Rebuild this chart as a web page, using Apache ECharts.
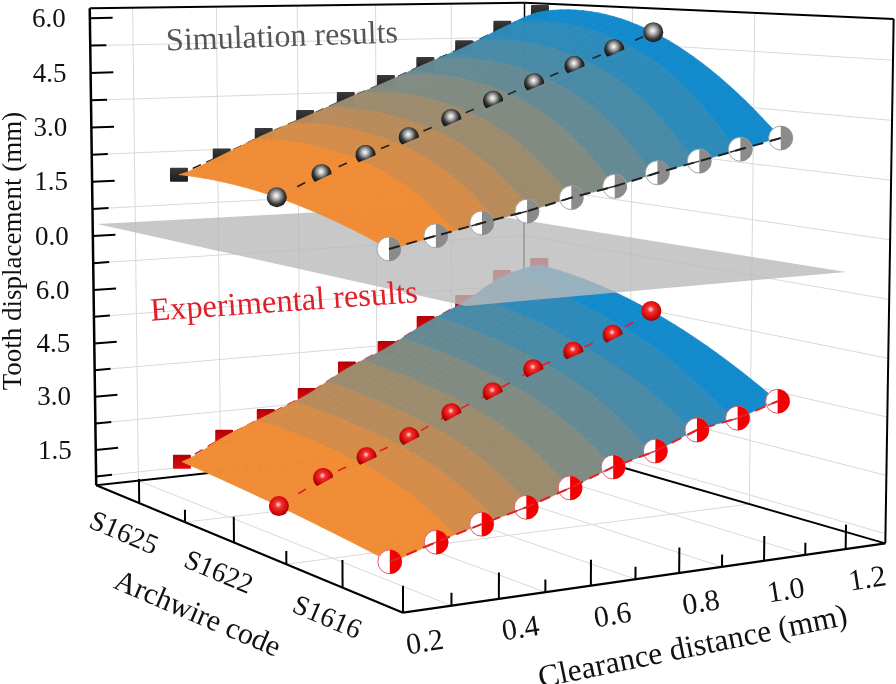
<!DOCTYPE html>
<html>
<head>
<meta charset="utf-8">
<title>Tooth displacement</title>
<style type="text/css">
	* {margin: 0; padding: 0;}
	#chart {width: 896px; height: 684px; background: #fff;}
</style>
</head>
<body>
<div id="chart"></div>
<script src="https://cdn.jsdelivr.net/npm/echarts@6/dist/echarts.min.js"></script>
<script type="text/javascript">
// values
var clearance = [0.3, 0.4, 0.5, 0.6, 0.7, 0.8, 0.9, 1.0, 1.1, 1.2];
var archwires = ['S1616', 'S1622', 'S1625'];
var simS1616 = [0.97, 1.21, 1.45, 1.67, 1.94, 2.16, 2.44, 2.68, 2.93, 3.17];
var simS1622 = [1.72, 2.25, 2.69, 3.10, 3.53, 3.97, 4.40, 4.83, 5.25, 5.69];
var simS1625 = [1.86, 2.33, 2.84, 3.29, 3.75, 4.19, 4.67, 5.12, 5.65, 6.09];
var expS1616 = [0.97, 1.30, 1.60, 1.88, 2.23, 2.63, 2.91, 3.33, 3.52, 3.85];
var expS1622 = [1.30, 1.90, 2.32, 2.73, 3.25, 3.70, 4.22, 4.60, 4.97, 5.54];
var expS1625 = [1.51, 2.08, 2.55, 3.03, 3.67, 4.16, 4.78, 5.30, 5.95, 6.22];

var clearanceTicks = [0.2, 0.4, 0.6, 0.8, 1.0, 1.2];
var clearanceGrid = [0.3, 0.5, 0.7, 0.9, 1.1];
var simTicks = [0, 1.5, 3, 4.5, 6];
var expTicks = [1.5, 3, 4.5, 6];
var bandEdges = [0.44, 0.53, 0.61, 0.70, 0.80, 0.89, 0.99, 1.09];
var bandColors = ['#f08c35', '#d48c48', '#b98b5b', '#9d8b6e', '#818b81', '#658a94', '#498aa6', '#2e8ab9', '#128acc'];

// camera: where the corners of the unit box land on the page (u, v, h, px, py)
var boxCorners = [[0,0,0,403,612],[1,0,0,885,544],[0,1,0,96,486],[1,1,0,524,438],[0,1,1,90,8],[1,1,1,524,3],[1,0,1,894,19]];

function solve(A, b) {
	var n = b.length, i, r, c;
	for (i = 0; i < n; i++) {
		var m = i;
		for (r = i + 1; r < n; r++) if (Math.abs(A[r][i]) > Math.abs(A[m][i])) m = r;
		var t = A[i]; A[i] = A[m]; A[m] = t;
		t = b[i]; b[i] = b[m]; b[m] = t;
		for (r = i + 1; r < n; r++) {
			var f = A[r][i] / A[i][i];
			for (c = i; c < n; c++) A[r][c] -= f * A[i][c];
			b[r] -= f * b[i];
		}
	}
	var x = [];
	for (i = n - 1; i >= 0; i--) {
		var s = b[i];
		for (c = i + 1; c < n; c++) s -= A[i][c] * x[c];
		x[i] = s / A[i][i];
	}
	return x;
}

function fitCamera() {
	var rows = [], N = [], B = [];
	boxCorners.forEach(function (k) {
		rows.push([k[0], k[1], k[2], 1, 0, 0, 0, 0, -k[3]*k[0], -k[3]*k[1], -k[3]*k[2], k[3]]);
		rows.push([0, 0, 0, 0, k[0], k[1], k[2], 1, -k[4]*k[0], -k[4]*k[1], -k[4]*k[2], k[4]]);
	});
	for (var i = 0; i < 11; i++) {
		N.push([]);
		var s = 0;
		for (var j = 0; j < 11; j++) {
			var t = 0;
			rows.forEach(function (r) { t += r[i] * r[j]; });
			N[i].push(t);
		}
		rows.forEach(function (r) { s += r[i] * r[11]; });
		B.push(s);
	}
	return solve(N, B);
}
var cam = fitCamera();

function project(u, v, h) {
	var w = cam[8]*u + cam[9]*v + cam[10]*h + 1;
	return [(cam[0]*u + cam[1]*v + cam[2]*h + cam[3]) / w, (cam[4]*u + cam[5]*v + cam[6]*h + cam[7]) / w];
}
function uOf(x) { return (x - 0.2) / 1.1; }
function vOf(i) { return (2 * i + 1) / 6; }
function hSim(z) { return 0.527 + 0.0754 * z; }
function hExp(z) { return -0.0376 + 0.0752 * z; }

function line(api, a, b, color, width, dash) {
	var p = api.coord(project(a[0], a[1], a[2])), q = api.coord(project(b[0], b[1], b[2]));
	return {type: 'line', shape: {x1: p[0], y1: p[1], x2: q[0], y2: q[1]}, style: {stroke: color, lineWidth: width, lineDash: dash}};
}
function label(api, text, pos, dx, dy, size, rot, color) {
	var p = api.coord(pos);
	return {type: 'text', x: p[0] + dx, y: p[1] + dy, rotation: (rot || 0) * Math.PI / 180,
		style: {text: text, font: size + 'px "Liberation Serif"', fill: color || '#111', align: 'center', verticalAlign: 'middle'}};
}

function renderWalls(params, api) {
	var c = [], grid = '#d9d9d9', k;
	clearanceGrid.forEach(function (x) {
		var u = uOf(x);
		c.push(line(api, [u,1,0], [u,1,1], grid, 1));
		c.push(line(api, [u,0,0], [u,1,0], grid, 1));
	});
	[2/6, 4/6].forEach(function (v) {
		c.push(line(api, [1,v,0], [1,v,1], grid, 1));
		c.push(line(api, [0,v,0], [1,v,0], grid, 1));
	});
	var wallLevels = [];
	for (k = 0; k < simTicks.length - 1; k++) wallLevels.push(hSim(simTicks[k] + 0.75));
	for (k = 0; k < expTicks.length; k++) wallLevels.push(hExp(expTicks[k] - 0.75));
	wallLevels.push(hExp(6.75));
	wallLevels.forEach(function (h) {
		c.push(line(api, [0,1,h], [1,1,h], grid, 1));
		c.push(line(api, [1,1,h], [1,0,h], grid, 1));
	});
	return {type: 'group', children: c};
}

function renderFrame(params, api) {
	var c = [], k = '#000';
	c.push(line(api, [1,1,0], [1,1,1], k, 1.5));
	c.push(line(api, [0,1,1], [1,1,1], k, 2));
	c.push(line(api, [1,1,1], [1,0,1], k, 2));
	c.push(line(api, [1,0,0], [1,0,1], k, 2));
	c.push(line(api, [0,1,0], [1,1,0], k, 2));
	c.push(line(api, [1,1,0], [1,0,0], k, 2));
	return {type: 'group', children: c};
}

function renderAxes(params, api) {
	var c = [], k = '#000';
	c.push(line(api, [0,1,0], [0,1,1], k, 2.5));
	c.push(line(api, [0,0,0], [1,0,0], k, 2.2));
	c.push(line(api, [0,0,0], [0,1,0], k, 2.2));

	function zTick(h, len) { c.push(line(api, [0,1,h], [len,1,h], k, 2)); }
	simTicks.forEach(function (z) {
		zTick(hSim(z), 0.048);
		c.push(label(api, z.toFixed(1), project(0, 1, hSim(z)), -41, 1.5, 27));
	});
	expTicks.forEach(function (z) {
		zTick(hExp(z), 0.048);
		c.push(label(api, z.toFixed(1), project(0, 1, hExp(z)), -41, 1.5, 27));
	});
	simTicks.slice(0, 4).forEach(function (z) { zTick(hSim(z + 0.75), 0.034); });
	expTicks.forEach(function (z) { zTick(hExp(z - 0.75), 0.034); });
	zTick(hExp(6.75), 0.034);

	clearanceTicks.forEach(function (x) {
		var u = uOf(x);
		c.push(line(api, [u,0,0], [u,0,0.047], k, 2));
		c.push(label(api, x.toFixed(1), project(u, 0, 0), 22, 31, 30, 9));
	});
	clearanceGrid.forEach(function (x) { c.push(line(api, [uOf(x),0,0], [uOf(x),0,0.023], k, 2)); });

	archwires.forEach(function (name, i) {
		c.push(line(api, [0,vOf(i),0], [0,vOf(i),0.05], k, 2));
		c.push(label(api, name, project(0, vOf(i), 0), -16, 31, 28, -23));
	});
	[2/6, 4/6].forEach(function (v) { c.push(line(api, [0,v,0], [0,v,0.025], k, 2)); });

	c.push(label(api, 'Tooth displacement (mm)', [14, 251], 0, 0, 27, 90));
	c.push(label(api, 'Archwire code', [197, 615], 0, 0, 30, -23));
	c.push(label(api, 'Clearance distance (mm)', [693, 648], 0, 0, 31.5, 11.6));
	c.push(label(api, 'Simulation results', [282, 38], 0, 0, 32, 2, '#555'));
	c.push(label(api, 'Experimental results', [284, 303], 0, 0, 32.5, 4, '#e01f2b'));
	return {type: 'group', children: c};
}

// smooth value along a row, passes through every measured value
function alongRow(vals, t) {
	var i = Math.max(Math.min(Math.floor(t), vals.length - 2), 0), f = t - i;
	var p0 = vals[Math.max(i - 1, 0)], p1 = vals[i], p2 = vals[i + 1], p3 = vals[Math.min(i + 2, vals.length - 1)];
	return 0.5 * (2*p1 + (p2-p0)*f + (2*p0-5*p1+4*p2-p3)*f*f + (3*p1-p0-3*p2+p3)*f*f*f);
}
// quadratic across the three archwires
function acrossRows(a, b, c, s) {
	return a*(s-1)*(s-2)/2 - b*s*(s-2) + c*s*(s-1)/2;
}
function bandEdgeAt(k, s) {
	if (k < 0) return clearance[0];
	if (k >= bandEdges.length) return clearance[clearance.length - 1];
	var bend = s < 1 ? 1 - (1-s)*(1-s) : 1;
	return bandEdges[k] + 0.04 * bend;
}

function surfaceRenderer(front, mid, back, hOf) {
	function at(x, s, api) {
		var t = (x - clearance[0]) / 0.1;
		var z = acrossRows(alongRow(front, t), alongRow(mid, t), alongRow(back, t), s);
		return api.coord(project(uOf(x), (1 + 2 * s) / 6, hOf(z)));
	}
	return function (params, api) {
		var ns = 30, m = 10, c = [];
		for (var j = ns - 1; j >= 0; j--) {
			var s0 = 2 * j / ns, s1 = 2 * (j + 1) / ns;
			for (var k = 0; k < bandColors.length; k++) {
				var pts = [], i;
				var a0 = bandEdgeAt(k - 1, s0), b0 = bandEdgeAt(k, s0), a1 = bandEdgeAt(k - 1, s1), b1 = bandEdgeAt(k, s1);
				for (i = 0; i <= m; i++) pts.push(at(a0 + (b0 - a0) * i / m, s0, api));
				for (i = m; i >= 0; i--) pts.push(at(a1 + (b1 - a1) * i / m, s1, api));
				c.push({type: 'polygon', shape: {points: pts}, style: {fill: bandColors[k], stroke: bandColors[k], lineWidth: 0.7}});
			}
		}
		return {type: 'group', children: c};
	};
}

function rowData(vals, row) {
	return vals.map(function (z, i) { return [clearance[i], row, z]; });
}
function rowLineRenderer(vals, row, hOf, color, width, dash) {
	return function (params, api) {
		var pts = vals.map(function (z, i) { return api.coord(project(uOf(clearance[i]), vOf(row), hOf(z))); });
		return {type: 'polyline', shape: {points: pts}, style: {stroke: color, lineWidth: width, lineDash: dash, fill: 'none'}};
	};
}
function where(api, hOf) {
	return api.coord(project(uOf(api.value(0)), vOf(api.value(1)), hOf(api.value(2))));
}

function squareRenderer(hOf, top, bottom) {
	return function (params, api) {
		var p = where(api, hOf);
		return {type: 'rect', shape: {x: p[0] - 9, y: p[1] - 7, width: 18, height: 14, r: 1},
			style: {fill: new echarts.graphic.LinearGradient(0, 0, 0, 1, [{offset: 0, color: top}, {offset: 1, color: bottom}])}};
	};
}
function sphereRenderer(vals, hOf, stops) {
	return function (params, api) {
		var p = where(api, hOf), i = params.dataIndex, r = 10;
		var fill = new echarts.graphic.RadialGradient(0.47, 0.42, 0.62, stops);
		if (i === 0 || i === vals.length - 1) {
			return {type: 'circle', shape: {cx: p[0], cy: p[1], r: r}, style: {fill: fill}};
		}
		var a = project(uOf(clearance[i-1]), vOf(1), hOf(vals[i-1])), b = project(uOf(clearance[i+1]), vOf(1), hOf(vals[i+1]));
		var tilt = Math.atan2(b[1] - a[1], b[0] - a[0]), pointDown = tilt + Math.PI / 2, gap = Math.acos(0.42), pts = [];
		for (var k = 0; k <= 40; k++) {
			var ang = pointDown + gap + (2 * Math.PI - 2 * gap) * k / 40;
			pts.push([p[0] + r * Math.cos(ang), p[1] + r * Math.sin(ang)]);
		}
		return {type: 'polygon', shape: {points: pts}, style: {fill: fill}};
	};
}
function halfRenderer(vals, hOf, color, edge, ink) {
	return function (params, api) {
		var p = where(api, hOf), i = params.dataIndex;
		var parts = [
			{type: 'circle', shape: {cx: p[0], cy: p[1], r: 12}, style: {fill: '#fff', stroke: edge, lineWidth: 1}},
			{type: 'sector', shape: {cx: p[0], cy: p[1], r: 12, r0: 0, startAngle: -Math.PI / 2, endAngle: Math.PI / 2, clockwise: true}, style: {fill: color}}
		];
		if (i > 0) {
			var q = api.coord(project(uOf(clearance[i-1]), vOf(0), hOf(vals[i-1])));
			var d = Math.sqrt((q[0]-p[0])*(q[0]-p[0]) + (q[1]-p[1])*(q[1]-p[1]));
			parts.push({type: 'line', shape: {x1: p[0], y1: p[1], x2: p[0] + (q[0]-p[0]) * 11 / d, y2: p[1] + (q[1]-p[1]) * 11 / d}, style: {stroke: ink, lineWidth: 1.5}});
		}
		return {type: 'group', children: parts};
	};
}
function renderPlane(params, api) {
	var h = 0.55;
	var pts = [[0.015,1.01],[0.775,0.996],[0.797,-0.106],[0.013,-0.143]].map(function (q) { return api.coord(project(q[0], q[1], h)); });
	return {type: 'polygon', shape: {points: pts}, style: {fill: 'rgba(186,186,186,0.8)'}};
}

var zNow = 1;
function custom(render, data) {
	return {type: 'custom', coordinateSystem: 'cartesian2d', renderItem: render, data: data || [[0, 0, 0]],
		z: zNow++, silent: true, animation: false, clip: false};
}
var deck = function (front, mid, back, hOf, ink, tickInk, square, sphereStops, half, edge) {
	return [
		custom(rowLineRenderer(back, 2, hOf, ink, 1.6, [9, 6])),
		custom(squareRenderer(hOf, square[0], square[1]), rowData(back, 2)),
		custom(surfaceRenderer(front, mid, back, hOf)),
		custom(rowLineRenderer(mid, 1, hOf, ink, 1.6, [9, 14])),
		custom(sphereRenderer(mid, hOf, sphereStops), rowData(mid, 1)),
		custom(halfRenderer(front, hOf, half, edge, tickInk), rowData(front, 0)),
		custom(rowLineRenderer(front, 0, hOf, ink, 2, [11, 7]))
	];
};

var series = [custom(renderWalls), custom(renderFrame)];
series = series.concat(deck(expS1616, expS1622, expS1625, hExp, '#e0202a', '#c05058', ['#b30006', '#dd0a10'],
	[{offset: 0, color: '#ffe0e0'}, {offset: 0.28, color: '#f43030'}, {offset: 0.7, color: '#d40808'}, {offset: 1, color: '#8a0000'}], '#f40000', '#d9606a'));
series.push(custom(renderPlane));
series = series.concat(deck(simS1616, simS1622, simS1625, hSim, '#222', '#333', ['#3a3a3a', '#1c1c1c'],
	[{offset: 0, color: '#fff'}, {offset: 0.28, color: '#b8b8b8'}, {offset: 0.68, color: '#3a3a3a'}, {offset: 1, color: '#111'}], '#8b8b8b', '#a5a5a5'));
series.push(custom(renderAxes));

var chart = echarts.init(document.getElementById('chart'));
chart.setOption({
	animation: false,
	grid: {left: 0, right: 0, top: 0, bottom: 0},
	xAxis: {type: 'value', min: 0, max: 896, show: false},
	yAxis: {type: 'value', min: 0, max: 684, inverse: true, show: false},
	series: series
});
</script>
</body>
</html>
